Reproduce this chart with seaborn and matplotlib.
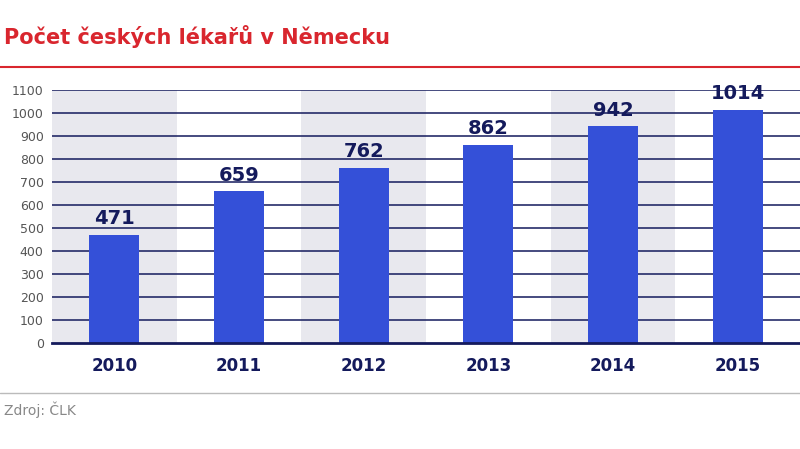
import matplotlib
matplotlib.use("Agg")
import matplotlib.pyplot as plt
import seaborn as sns
import pandas as pd

years = ["2010", "2011", "2012", "2013", "2014", "2015"]
values = [471, 659, 762, 862, 942, 1014]
yticks = list(range(0, 1101, 100))

sns.set_style("white")
plt.rcParams['font.family'] = ['DejaVu Sans']
navy = "#141a5c"

fig = plt.figure(figsize=(8, 4.49), dpi=100)
ax = fig.add_axes([0.065, 0.236, 0.935, 0.564])
for i in range(0, 6, 2):
    ax.axvspan(i - 0.5, i + 0.5, color="#e8e8ee", zorder=0, lw=0)
for t in yticks[1:]:
    ax.axhline(t, color=navy, lw=1.1, zorder=1)
df = pd.DataFrame({"year": years, "value": values})
sns.barplot(data=df, x="year", y="value", color="#3450d8", saturation=1, width=0.4,
            ax=ax, zorder=2, linewidth=0, edgecolor="none")
for i, v in enumerate(values):
    ax.text(i, v + 28, str(v), ha="center", va="bottom", fontsize=14, fontweight="bold", color=navy)
ax.set_xlim(-0.5, 5.5)
ax.set_ylim(0, 1100)
ax.set_yticks(yticks)
ax.tick_params(axis="y", labelsize=9, colors="#555555", length=0, pad=6)
ax.tick_params(axis="x", labelsize=12, colors=navy, length=0, pad=10)
for l in ax.get_xticklabels():
    l.set_fontweight("bold")
ax.set_xlabel(""); ax.set_ylabel("")
for s in ["top", "right", "left"]:
    ax.spines[s].set_visible(False)
ax.spines["bottom"].set_color(navy)
ax.spines["bottom"].set_linewidth(2)

fig.text(0.005, 0.918, "Počet českých lékařů v Německu", fontsize=15, fontweight="bold", color="#d9262e", va="center")
fig.add_artist(plt.Line2D([0, 1], [0.851, 0.851], color="#d9262e", lw=1.5))
fig.add_artist(plt.Line2D([0, 1], [0.125, 0.125], color="#bbbbbb", lw=1))
fig.text(0.005, 0.087, "Zdroj: ČLK", fontsize=10, color="#888888", va="center")
fig.savefig("out.png", dpi=100)
